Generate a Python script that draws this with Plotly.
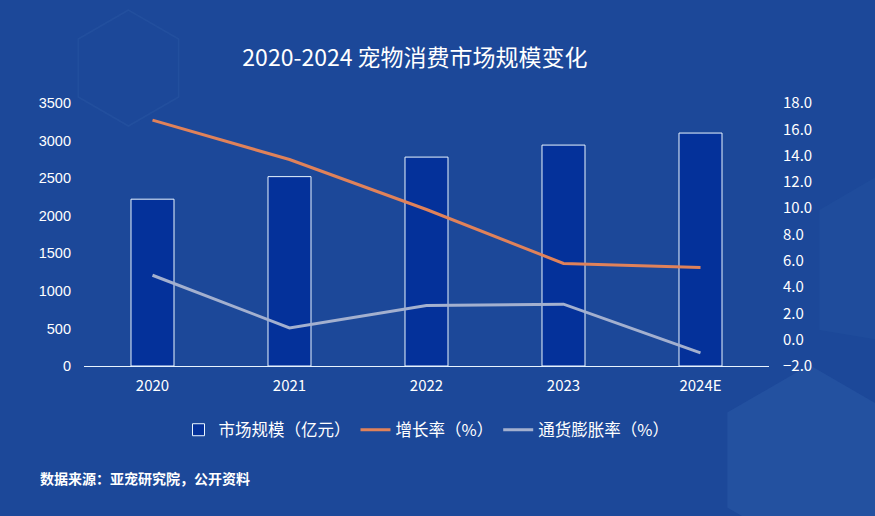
import plotly.graph_objects as go

years = ["2020", "2021", "2022", "2023", "2024E"]
market_size = [2220, 2520, 2780, 2940, 3100]
growth_rate = [16.7, 13.7, 9.9, 5.8, 5.5]
inflation_rate = [4.9, 0.9, 2.6, 2.7, -1.0]

left_ticks = [0, 500, 1000, 1500, 2000, 2500, 3000, 3500]
right_ticks = [-2, 0, 2, 4, 6, 8, 10, 12, 14, 16, 18]

FONT = "Noto Sans CJK SC"
W, H = 875, 516
L, R, T, B = 83.5, 105.5, 103, 150
PW, PH = W - L - R, H - T - B


def px(x, y):
    return (x - L) / PW, (H - B - y) / PH


def hexpath(cx, cy, r):
    import math
    pts = []
    for k in range(6):
        a = math.radians(60 * k + 90)
        pts.append(px(cx + r * math.cos(a), cy - r * math.sin(a)))
    return "M " + " L ".join(f"{a:.4f},{b:.4f}" for a, b in pts) + " Z"


fig = go.Figure()

fig.add_trace(go.Bar(
    x=years, y=market_size, name="市场规模（亿元）",
    marker=dict(color="#04319A", line=dict(color="#EAF6FF", width=1)),
    yaxis="y",
))
fig.add_trace(go.Scatter(
    x=years, y=growth_rate, name="增长率（%）", mode="lines",
    line=dict(color="#E0825A", width=3), yaxis="y2",
))
fig.add_trace(go.Scatter(
    x=years, y=inflation_rate, name="通货膨胀率（%）", mode="lines",
    line=dict(color="#A3B0CF", width=3), yaxis="y2",
))

shapes = [
    dict(type="path", xref="paper", yref="paper", path=hexpath(128, 68, 58),
         line=dict(color="rgba(120,160,220,0.08)", width=1.5), fillcolor="rgba(0,0,0,0)", layer="below"),
    dict(type="path", xref="paper", yref="paper", path=hexpath(810, 460, 95),
         line=dict(width=0), fillcolor="rgba(90,150,210,0.12)", layer="below"),
    dict(type="path", xref="paper", yref="paper",
         path="M %.4f,%.4f L %.4f,%.4f L %.4f,%.4f L %.4f,%.4f Z" % (*px(820, 210), *px(880, 175), *px(880, 340), *px(820, 330)),
         line=dict(width=0), fillcolor="rgba(90,150,210,0.06)", layer="below"),
]

fig.update_layout(
    width=W, height=H,
    paper_bgcolor="#1C4899",
    plot_bgcolor="rgba(0,0,0,0)",
    margin=dict(l=L, r=R, t=T, b=B, pad=0),
    font=dict(family=FONT, color="white", size=14),
    title=dict(text="2020-2024 宠物消费市场规模变化", x=415 / W, y=1 - 58 / H,
               xanchor="center", yanchor="middle", xref="container", yref="container",
               font=dict(size=23, color="white", family=FONT)),
    bargap=0.686,
    showlegend=True,
    legend=dict(orientation="h", x=0.5, xanchor="center", y=(H - B - 430) / PH, yanchor="middle",
                font=dict(size=16.5, color="white", family=FONT), bgcolor="rgba(0,0,0,0)",
                itemwidth=30, tracegroupgap=0),
    xaxis=dict(showgrid=False, showline=True, linecolor="#E8F4FF", linewidth=1,
               ticks="", tickfont=dict(size=15, color="white", family=FONT), zeroline=False,
               ticklabelstandoff=6),
    yaxis=dict(range=[0, 3500], tickvals=left_ticks, showgrid=False, zeroline=False,
               showline=False, ticks="", tickfont=dict(size=14.5, color="white", family="Liberation Sans"),
               ticklabelstandoff=12),
    yaxis2=dict(range=[-2, 18], tickvals=right_ticks, tickformat=".1f", overlaying="y", side="right",
                showgrid=False, zeroline=False, showline=False, ticks="",
                tickfont=dict(size=15, color="white", family=FONT), ticklabelstandoff=13),
    shapes=shapes,
    annotations=[dict(text="<b>数据来源：亚宠研究院，公开资料</b>", xref="paper", yref="paper",
                      x=px(37, 478)[0], y=px(37, 478)[1], xanchor="left", yanchor="middle",
                      showarrow=False, font=dict(size=14, color="white", family=FONT))],
)

fig.write_html("out.html", config={"displayModeBar": False},
               post_script="document.body.style.margin='0';document.body.style.background='#1C4899';")
